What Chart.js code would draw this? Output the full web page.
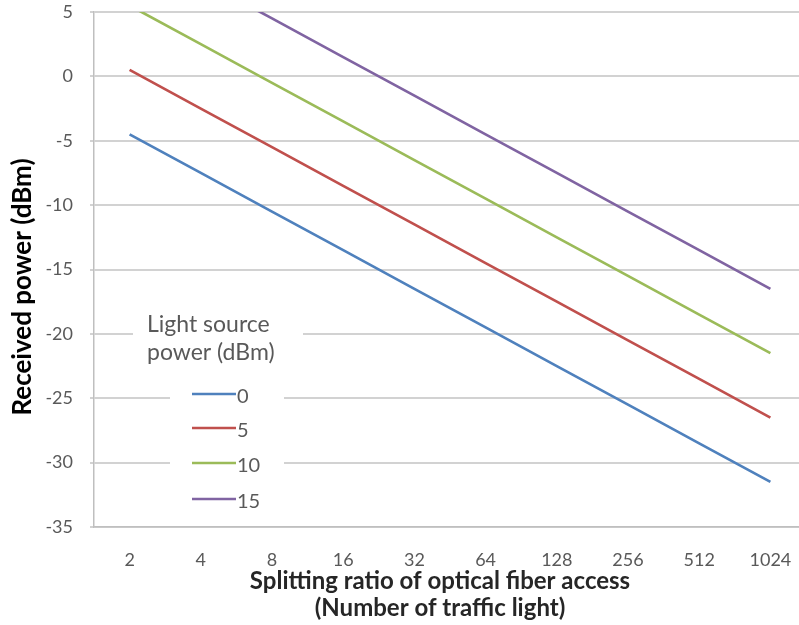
<!DOCTYPE html>
<html>
<head>
<meta charset="utf-8">
<script src="https://cdn.jsdelivr.net/npm/chart.js@4.4.1/dist/chart.umd.min.js"></script>
<style>
html,body{margin:0;padding:0;background:#fff;overflow:hidden;}
#wrap{width:815px;height:625px;}
</style>
</head>
<body>
<div id="wrap"><canvas id="c" width="815" height="625"></canvas></div>
<script>
// ---- data ----
const categories = ['2','4','8','16','32','64','128','256','512','1024'];
const seriesNames = ['0','5','10','15'];
const src0  = [-4.5, -7.5, -10.5, -13.5, -16.5, -19.5, -22.5, -25.5, -28.5, -31.5];
const src5  = [0.5, -2.5, -5.5, -8.5, -11.5, -14.5, -17.5, -20.5, -23.5, -26.5];
const src10 = [5.5, 2.5, -0.5, -3.5, -6.5, -9.5, -12.5, -15.5, -18.5, -21.5];
const src15 = [10.5, 7.5, 4.5, 1.5, -1.5, -4.5, -7.5, -10.5, -13.5, -16.5];
const yTicks = [5, 0, -5, -10, -15, -20, -25, -30, -35];
const legendTitle = ['Light source', 'power (dBm)'];
const xTitle = ['Splitting ratio of optical fiber access', '(Number of traffic light)'];
const yTitle = 'Received power (dBm)';

const colors = ['#4F81BD', '#C0504D', '#9BBB59', '#8064A2'];
const seriesData = [src0, src5, src10, src15];
const FONT = 'Lato, "Open Sans", sans-serif';

const legendPlugin = {
  id: 'insideLegend',
  afterDatasetsDraw(chart) {
    const ctx = chart.ctx;
    ctx.save();
    ctx.fillStyle = '#ffffff';
    ctx.fillRect(133, 310, 170, 60);
    ctx.fillRect(170, 378, 114, 136);
    ctx.fillStyle = '#595959';
    ctx.font = '23px ' + FONT;
    ctx.textAlign = 'left';
    ctx.textBaseline = 'middle';
    ctx.fillText(legendTitle[0], 147, 325);
    ctx.fillText(legendTitle[1], 147, 353);
    ctx.font = '20px ' + FONT;
    const rows = [394, 428, 463, 499];
    chart.data.datasets.forEach((ds, i) => {
      ctx.strokeStyle = ds.borderColor;
      ctx.lineWidth = 2.5;
      ctx.beginPath();
      ctx.moveTo(192, rows[i]);
      ctx.lineTo(236, rows[i]);
      ctx.stroke();
      ctx.fillStyle = '#595959';
      ctx.fillText(ds.label, 237, rows[i] + 3);
    });
    ctx.restore();
  }
};

const titlesPlugin = {
  id: 'axisTitles',
  afterDraw(chart) {
    const ctx = chart.ctx;
    ctx.save();
    ctx.textAlign = 'center';
    ctx.textBaseline = 'middle';
    ctx.fillStyle = '#262626';
    ctx.font = 'bold 24px ' + FONT;
    ctx.fillText(xTitle[0], 440, 581);
    ctx.fillText(xTitle[1], 440, 608);
    ctx.fillStyle = '#000000';
    ctx.font = 'bold 26px ' + FONT;
    ctx.translate(23, 287);
    ctx.rotate(-Math.PI / 2);
    ctx.fillText(yTitle, 0, 0);
    ctx.restore();
  }
};

new Chart(document.getElementById('c'), {
  type: 'line',
  data: {
    labels: categories,
    datasets: seriesData.map((d, i) => ({
      label: seriesNames[i],
      data: d,
      borderColor: colors[i],
      backgroundColor: colors[i],
      borderWidth: 2.7,
      pointRadius: 0,
      tension: 0,
      fill: false
    }))
  },
  options: {
    responsive: false,
    animation: false,
    layout: { padding: { top: 12, right: 9, left: 0, bottom: 0 } },
    plugins: { legend: { display: false }, tooltip: { enabled: false } },
    scales: {
      x: {
        offset: true,
        grid: { display: false },
        border: { display: true, color: '#BFBFBF', width: 1.5 },
        ticks: { color: '#595959', font: { family: FONT, size: 18 }, padding: 14, maxRotation: 0, autoSkip: false },
        afterFit(s) { s.height = 98; }
      },
      y: {
        min: -35, max: 5,
        afterBuildTicks(s) { s.ticks = yTicks.map(v => ({ value: v })); },
        grid: { color: '#D2D2D2', lineWidth: 2, tickLength: 4 },
        border: { display: true, color: '#BFBFBF', width: 1.5 },
        ticks: { color: '#595959', font: { family: FONT, size: 18 }, padding: 17 },
        afterFit(s) { s.width = 94; s.paddingTop = 0; s.paddingBottom = 0; }
      }
    }
  },
  plugins: [legendPlugin, titlesPlugin]
});
</script>
</body>
</html>
